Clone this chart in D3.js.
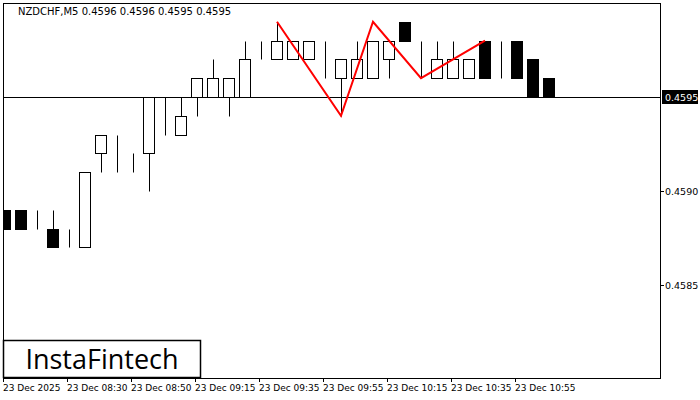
<!DOCTYPE html><html><head><script src="https://cdn.jsdelivr.net/npm/d3@7"></script>
<style>body{margin:0;background:#fff}</style></head><body><svg id="c" width="700" height="400"></svg>
<script>
const opens  =[.4589,.4589,.4589,.4588,.4588,.4587,.4592,.4592,.4591,.4592,.4594,.4593,.4595,.4595,.4595,.4595,.4598,.4597,.4597,.4597,.4597,.4596,.4596,.4596,.4597,.4599,.4597,.4596,.4596,.4596,.4598,.4597,.4598,.4597,.4596];
const highs  =[.4589,.4589,.4589,.4589,.4588,.4591,.4593,.4593,.4592,.4595,.4595,.4595,.4596,.4597,.4596,.4598,.4598,.4599,.4598,.4598,.4598,.4597,.4598,.4598,.4598,.4599,.4598,.4598,.4598,.4597,.4598,.4598,.4598,.4597,.4596];
const lows   =[.4588,.4588,.4588,.4587,.4587,.4587,.4591,.4591,.4591,.4590,.4593,.4593,.4594,.4595,.4594,.4595,.4597,.4597,.4597,.4597,.4596,.4594,.4596,.4596,.4596,.4598,.4596,.4596,.4596,.4596,.4596,.4596,.4596,.4595,.4595];
const closes =[.4588,.4588,.4589,.4587,.4588,.4591,.4593,.4592,.4591,.4595,.4594,.4594,.4596,.4596,.4596,.4597,.4598,.4598,.4598,.4598,.4597,.4597,.4597,.4598,.4598,.4598,.4597,.4597,.4597,.4597,.4596,.4597,.4596,.4595,.4595];
const zigIdx=[17,21,23,26,30], zigVal=[.4599,.4594,.4599,.4596,.4598];
const xLabels=["23 Dec 2025","23 Dec 08:30","23 Dec 08:50","23 Dec 09:15","23 Dec 09:35","23 Dec 09:55","23 Dec 10:15","23 Dec 10:35","23 Dec 10:55"];
const xLabelIdx=[0,4,8,12,16,20,24,28,32];
const yTicks=[.4590,.4585];
const current=.4595;
const svg=d3.select("#c");
const x=d3.scaleLinear().domain([0,34]).range([5,549]);
const y=d3.scaleLinear().domain([.4585,.4595]).range([285,97]);
const L=3,R=660,T=3,B=378;
svg.append("rect").attr("x",L+.5).attr("y",T+.5).attr("width",R-L).attr("height",B-T).attr("fill","none").attr("stroke","#000");
const g=svg.append("g");
g.append("clipPath").attr("id","cp").append("rect").attr("x",L+1).attr("y",T+1).attr("width",R-L-1).attr("height",B-T-1);
const p=g.append("g").attr("clip-path","url(#cp)");
p.append("line").attr("x1",L).attr("x2",R).attr("y1",Math.round(y(current))+.5).attr("y2",Math.round(y(current))+.5).attr("stroke","#000");
const idx=d3.range(opens.length);
const r=v=>Math.round(y(v))+.5;
p.selectAll(".w").data(idx).join("line").attr("x1",i=>Math.round(x(i))+.5).attr("x2",i=>Math.round(x(i))+.5)
 .attr("y1",i=>r(highs[i])).attr("y2",i=>r(lows[i])).attr("stroke","#000");
p.selectAll(".b").data(idx).join("rect").attr("x",i=>Math.round(x(i))-5.5).attr("width",11)
 .attr("y",i=>r(Math.max(opens[i],closes[i]))).attr("height",i=>Math.max(0,r(Math.min(opens[i],closes[i]))-r(Math.max(opens[i],closes[i]))))
 .attr("fill",i=>closes[i]<opens[i]?"#000":"#fff").attr("stroke","#000");
p.append("path").attr("d",d3.line().x(i=>x(zigIdx[i])).y(i=>y(zigVal[i]))(d3.range(zigIdx.length))).attr("fill","none").attr("stroke","#f00").attr("stroke-width",2);
svg.append("text").attr("x",18).attr("y",15).attr("font-family","Tahoma, DejaVu Sans, sans-serif").attr("font-size",10).text("NZDCHF,M5  0.4596 0.4596 0.4595 0.4595");
yTicks.forEach(v=>{svg.append("line").attr("x1",R).attr("x2",R+4).attr("y1",r(v)).attr("y2",r(v)).attr("stroke","#000");
 svg.append("text").attr("x",665).attr("y",y(v)+4).attr("font-family","DejaVu Sans, sans-serif").attr("font-size",9.5).text(d3.format(".4f")(v));});
svg.append("rect").attr("x",662).attr("y",y(current)-7).attr("width",36).attr("height",14).attr("fill","#000");
svg.append("text").attr("x",665).attr("y",y(current)+4).attr("fill","#fff").attr("font-family","DejaVu Sans, sans-serif").attr("font-size",9.5).text(d3.format(".4f")(current));
xLabelIdx.forEach((k,j)=>{const xx=Math.round(x(k))-2;svg.append("line").attr("x1",xx+.5).attr("x2",xx+.5).attr("y1",B).attr("y2",B+4).attr("stroke","#000");
 svg.append("text").attr("x",xx).attr("y",391).attr("font-family","DejaVu Sans, sans-serif").attr("font-size",9).text(xLabels[j]);});
svg.append("rect").attr("x",3.5).attr("y",340.5).attr("width",197).attr("height",37).attr("fill","#fff").attr("stroke","#000").attr("stroke-width",1.5);
svg.append("text").attr("x",102).attr("y",369).attr("text-anchor","middle").attr("font-family","Open Sans, sans-serif").attr("font-size",27).text("InstaFintech");
</script></body></html>
